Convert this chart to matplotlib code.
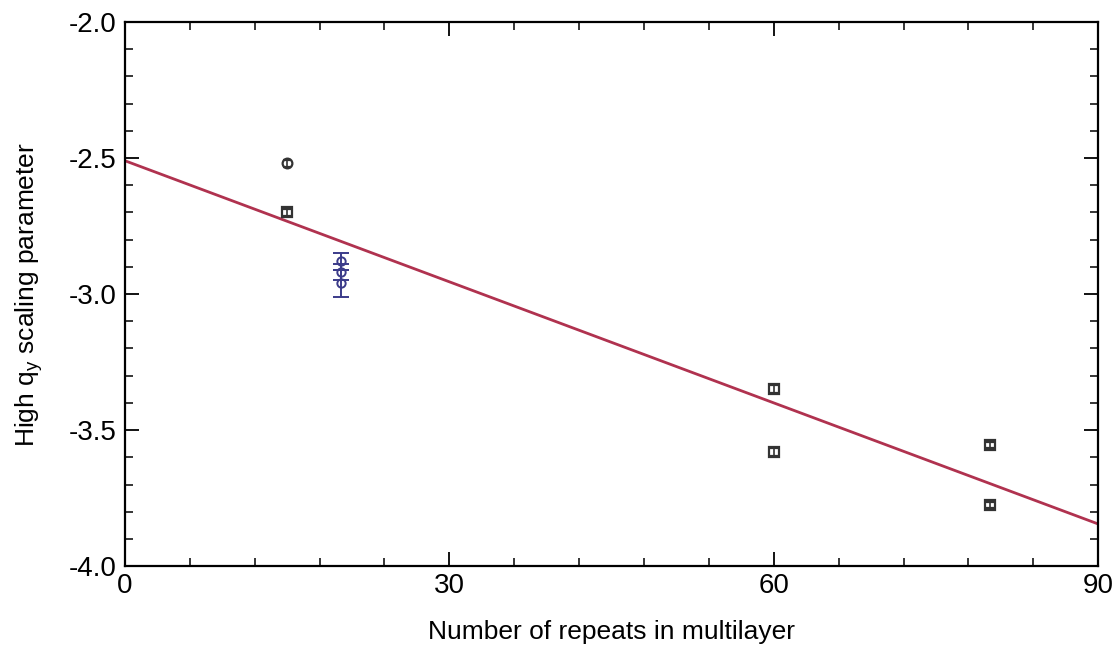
import matplotlib
matplotlib.use("Agg")
import matplotlib.pyplot as plt
from matplotlib.ticker import MultipleLocator

plt.rcParams['font.family'] = ['Liberation Sans', 'DejaVu Sans']

# measured points (black)
x_black = [15, 15, 60, 60, 80, 80]
y_black = [-2.52, -2.70, -3.35, -3.58, -3.555, -3.775]
err_black = [0.012, 0.012, 0.015, 0.015, 0.012, 0.012]
mk_black = ['o', 's', 's', 's', 's', 's']

# points at 20 repeats (blue)
x_blue = [20, 20, 20]
y_blue = [-2.88, -2.92, -2.96]
err_blue = [0.03, 0.03, 0.05]

# linear fit
fit_x = [0, 90]
fit_y = [-2.51, -3.845]

fig = plt.figure(figsize=(11.16, 6.47), dpi=100)
ax = fig.add_axes([0.112, 0.125, 0.872, 0.841])

ax.plot(fit_x, fit_y, color='#b0324f', lw=2)

for xv, yv, ev, m in zip(x_black, y_black, err_black, mk_black):
    ax.errorbar(xv, yv, yerr=ev, fmt=m, ms=7, mfc='none', mec='#333333',
                mew=1.6, ecolor='#333333', elinewidth=1.2, capsize=3)

ax.errorbar(x_blue, y_blue, yerr=err_blue, fmt='o', ms=6, mfc='none',
            mec='#3b3b8a', mew=1.4, ecolor='#3b3b8a', elinewidth=1.4,
            capsize=6)

ax.set_xlim(0, 90)
ax.set_ylim(-4.0, -2.0)
ax.set_xticks([0, 30, 60, 90])
ax.set_yticks([-4.0, -3.5, -3.0, -2.5, -2.0])
ax.set_yticklabels(['-4.0', '-3.5', '-3.0', '-2.5', '-2.0'])
ax.xaxis.set_minor_locator(MultipleLocator(6))
ax.yaxis.set_minor_locator(MultipleLocator(0.1))
ax.tick_params(which='both', direction='in', top=True, right=True,
               labelsize=20)
ax.tick_params(axis='x', pad=5)
ax.tick_params(axis='y', pad=6)
ax.tick_params(which='major', length=10, width=1.3)
ax.tick_params(which='minor', length=6, width=1.1)
for s in ax.spines.values():
    s.set_linewidth(1.6)

ax.set_xlabel('Number of repeats in multilayer', fontsize=19, labelpad=15)
ax.set_ylabel('High q$_\\mathregular{y}$ scaling parameter', fontsize=19,
              labelpad=17)

fig.savefig('out.png', dpi=100)
